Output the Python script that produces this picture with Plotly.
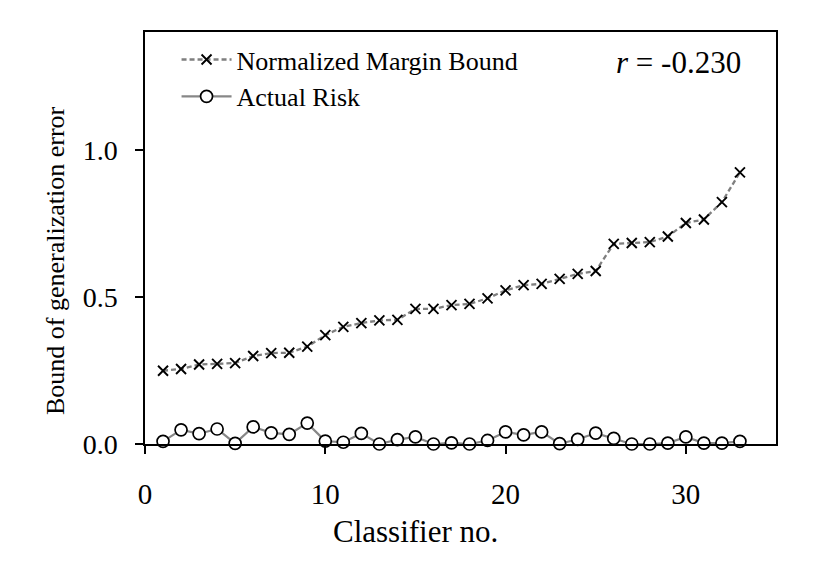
import plotly.graph_objects as go

classifier_no = list(range(1, 34))
margin_bound = [0.249, 0.255, 0.270, 0.272, 0.275, 0.299, 0.309, 0.310, 0.331, 0.370,
                0.398, 0.411, 0.420, 0.422, 0.459, 0.459, 0.472, 0.476, 0.495, 0.522,
                0.540, 0.544, 0.561, 0.578, 0.588, 0.680, 0.683, 0.686, 0.705, 0.751,
                0.763, 0.822, 0.923]
actual_risk = [0.009, 0.048, 0.035, 0.051, 0.002, 0.058, 0.038, 0.033, 0.071, 0.010,
               0.006, 0.036, 0.000, 0.015, 0.024, 0.000, 0.004, 0.000, 0.012, 0.041,
               0.031, 0.041, 0.001, 0.016, 0.037, 0.019, 0.000, 0.000, 0.003, 0.024,
               0.003, 0.003, 0.009]
x_ticks = [0, 10, 20, 30]
y_ticks = [0.0, 0.5, 1.0]
y_tick_labels = ["0.0", "0.5", "1.0"]
r_text = "<i>r</i> = -0.230"
x_title = "Classifier no."
y_title = "Bound of generalization error"

FONT = "Liberation Serif"

fig = go.Figure()
fig.add_trace(go.Scatter(
    x=classifier_no, y=margin_bound, mode="lines+markers",
    name="Normalized Margin Bound",
    line=dict(color="#7f7f7f", width=2.3, dash="5px,3px"),
    marker=dict(symbol="x-thin", size=10, color="black",
                line=dict(color="black", width=1.9)),
))
fig.add_trace(go.Scatter(
    x=classifier_no, y=actual_risk, mode="lines+markers",
    name="Actual Risk",
    line=dict(color="#878787", width=2.2),
    marker=dict(symbol="circle", size=12, color="white",
                line=dict(color="black", width=1.7)),
    cliponaxis=False,
))

fig.add_annotation(
    x=0.947, y=0.926, xref="paper", yref="paper", xanchor="right", yanchor="middle",
    text=r_text, showarrow=False, font=dict(family=FONT, size=31, color="black"),
)
fig.add_annotation(
    x=0.428, y=-0.213, xref="paper", yref="paper", xanchor="center", yanchor="middle",
    text=x_title, showarrow=False, font=dict(family=FONT, size=31, color="black"),
)
fig.add_annotation(
    x=-0.142, y=0.445, xref="paper", yref="paper", xanchor="center", yanchor="middle",
    text=y_title, textangle=-90, showarrow=False,
    font=dict(family=FONT, size=26, color="black"),
)

fig.update_layout(
    width=830, height=587,
    margin=dict(l=136.5, r=62, t=24, b=151),
    paper_bgcolor="white", plot_bgcolor="white",
    font=dict(family=FONT, color="black"),
    showlegend=True,
    legend=dict(x=0.05, y=0.99, xanchor="left", yanchor="top",
                font=dict(family=FONT, size=26, color="black"),
                bgcolor="rgba(0,0,0,0)", itemwidth=50, tracegroupgap=0),
    xaxis=dict(
        range=[0, 35], tickvals=x_ticks, ticks="outside", ticklen=8, tickwidth=1.5,
        tickcolor="black", showline=True, linecolor="black", linewidth=1.5, mirror=True,
        showgrid=False, zeroline=False,
        tickfont=dict(family=FONT, size=29, color="black"), ticklabelstandoff=15,
    ),
    yaxis=dict(
        range=[0, 1.4], tickvals=y_ticks, ticktext=y_tick_labels, ticks="outside",
        ticklen=8, tickwidth=1.5, tickcolor="black", showline=True, linecolor="black",
        linewidth=1.5, mirror=True, showgrid=False, zeroline=False,
        tickfont=dict(family=FONT, size=28, color="black"), ticklabelstandoff=12,
    ),
)

fig.write_html("out.html")
